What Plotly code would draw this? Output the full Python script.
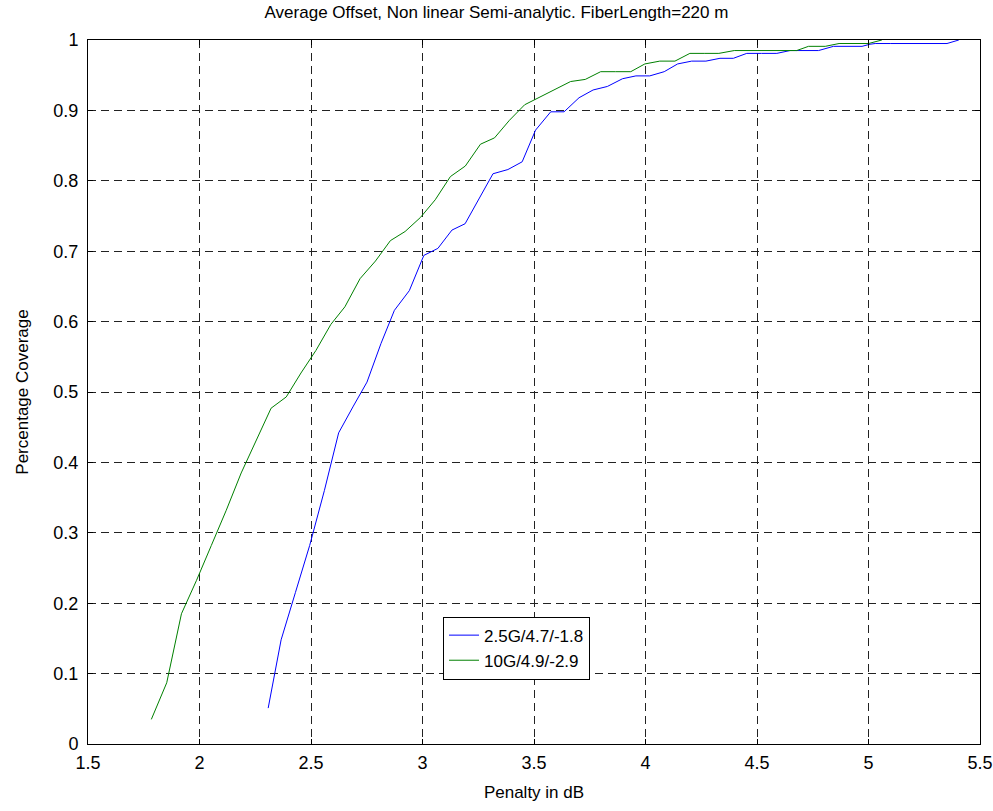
import plotly.graph_objects as go

title_text = "Average Offset, Non linear Semi-analytic. FiberLength=220 m"
x_label = "Penalty in dB"
y_label = "Percentage Coverage"

blue_name = "2.5G/4.7/-1.8"
blue_x = [2.308, 2.366, 2.43, 2.494, 2.56, 2.624, 2.69, 2.751, 2.814, 2.874, 2.941, 3.006,
          3.069, 3.132, 3.191, 3.256, 3.316, 3.383, 3.447, 3.507, 3.575, 3.635, 3.702, 3.765,
          3.829, 3.897, 3.957, 4.019, 4.084, 4.144, 4.207, 4.271, 4.334, 4.394, 4.454, 4.52,
          4.589, 4.648, 4.71, 4.776, 4.843, 4.91, 4.971, 5.007, 5.03, 5.1, 5.2, 5.3, 5.352, 5.405]
blue_y = [0.051, 0.148, 0.215, 0.282, 0.36, 0.442, 0.48, 0.514, 0.569, 0.616, 0.644, 0.694,
          0.704, 0.730, 0.739, 0.777, 0.810, 0.816, 0.827, 0.872, 0.898, 0.898, 0.918, 0.929,
          0.934, 0.945, 0.949, 0.949, 0.955, 0.966, 0.970, 0.970, 0.974, 0.974, 0.981, 0.981,
          0.981, 0.985, 0.985, 0.985, 0.991, 0.991, 0.991, 0.994, 0.995, 0.995, 0.995, 0.995, 0.995, 1.0]

green_name = "10G/4.9/-2.9"
green_x = [1.784, 1.853, 1.919, 1.986, 2.053, 2.12, 2.187, 2.254, 2.321, 2.389, 2.455, 2.522,
           2.589, 2.652, 2.720, 2.789, 2.856, 2.922, 2.991, 3.057, 3.125, 3.192, 3.260, 3.323,
           3.390, 3.458, 3.525, 3.59, 3.664, 3.730, 3.799, 3.866, 3.934, 3.997, 4.064, 4.132,
           4.199, 4.266, 4.329, 4.398, 4.46, 4.53, 4.6, 4.678, 4.731, 4.806, 4.868, 4.93, 5.0, 5.06]
green_y = [0.035, 0.087, 0.185, 0.232, 0.282, 0.332, 0.385, 0.432, 0.477, 0.493, 0.527, 0.559,
           0.596, 0.621, 0.661, 0.686, 0.715, 0.728, 0.748, 0.773, 0.806, 0.821, 0.852, 0.861,
           0.886, 0.908, 0.919, 0.930, 0.941, 0.944, 0.955, 0.955, 0.955, 0.966, 0.970, 0.970,
           0.981, 0.981, 0.981, 0.985, 0.985, 0.985, 0.985, 0.985, 0.991, 0.991, 0.995, 0.995, 0.995, 1.0]

x_ticks = [1.5, 2, 2.5, 3, 3.5, 4, 4.5, 5, 5.5]
y_ticks = [0, 0.1, 0.2, 0.3, 0.4, 0.5, 0.6, 0.7, 0.8, 0.9, 1]

FONT = "Liberation Sans, Arial, Helvetica, sans-serif"

fig = go.Figure()
fig.add_trace(go.Scatter(x=blue_x, y=blue_y, mode="lines", name=blue_name,
                         line=dict(color="#0000ff", width=1)))
fig.add_trace(go.Scatter(x=green_x, y=green_y, mode="lines", name=green_name,
                         line=dict(color="#008000", width=1)))

axis_common = dict(
    showline=True, linecolor="black", linewidth=1, mirror="ticks",
    ticks="inside", ticklen=5, tickcolor="black", tickwidth=1,
    showgrid=True, gridcolor="#222222", gridwidth=1, griddash="8px,5px",
    zeroline=False, tickfont=dict(family=FONT, size=18, color="black"),
    automargin=False,
)

fig.update_xaxes(range=[1.5, 5.5], tickvals=x_ticks, ticktext=[f"{v:g}" for v in x_ticks],
                 ticklabelstandoff=2,
                 title=dict(text=x_label, font=dict(family=FONT, size=17, color="black"), standoff=14),
                 **axis_common)
fig.update_yaxes(range=[0, 1], tickvals=y_ticks, ticktext=[f"{v:g}" for v in y_ticks],
                 ticklabelstandoff=5,
                 title=dict(text=y_label, font=dict(family=FONT, size=17, color="black"), standoff=20),
                 **axis_common)

fig.update_layout(
    width=993, height=811,
    margin=dict(l=88, r=13, t=40, b=67),
    paper_bgcolor="white", plot_bgcolor="white",
    title=dict(text=title_text, x=0.5, xanchor="center", yref="container",
               y=1 - 12 / 811, yanchor="middle",
               font=dict(family=FONT, size=17, color="black")),
    showlegend=True,
    legend=dict(x=0.398, y=0.181, xanchor="left", yanchor="top",
                bgcolor="white", bordercolor="black", borderwidth=1,
                font=dict(family=FONT, size=17, color="black"),
                tracegroupgap=0, itemwidth=30),
    font=dict(family=FONT),
)

fig.write_html("out.html", config={"displayModeBar": False},
               post_script="document.body.style.margin='0';document.body.style.overflow='hidden';")
